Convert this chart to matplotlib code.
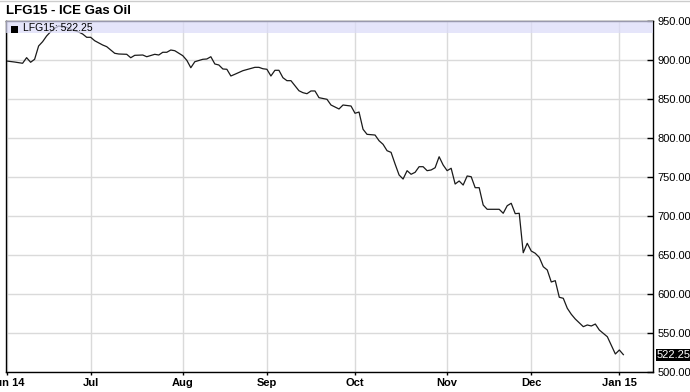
import matplotlib
matplotlib.use("Agg")
import matplotlib.pyplot as plt
from matplotlib.patches import Rectangle
from matplotlib.lines import Line2D
import matplotlib.transforms as mtransforms

plt.rcParams["font.family"] = ["Liberation Sans", "DejaVu Sans"]

# trading-day index (0 = first session of Jun 2014) and settlement price
day_idx = [0, 2, 4, 5, 6, 7, 8, 9, 10, 11, 12, 13, 15, 16, 18, 19, 20, 21, 22, 24,
           25, 27, 28, 30, 31, 32, 34, 35, 37, 38, 39, 40, 41, 42, 44, 45, 46, 47, 49, 50,
           51, 52, 53, 54, 55, 56, 57, 59, 62, 63, 64, 65, 66, 67, 68, 69, 70, 71, 73, 74,
           75, 76, 77, 78, 80, 81, 83, 84, 86, 87, 88, 89, 90, 92, 93, 94, 95, 96, 97, 98,
           99, 100, 101, 102, 103, 104, 105, 106, 107, 108, 109, 110, 111, 112, 113, 114, 115, 116, 117, 118,
           119, 120, 123, 124, 125, 126, 127, 128, 129, 130, 131, 132, 133, 134, 135, 136, 137, 138, 139, 140,
           141, 142, 143, 144, 145, 146, 147, 148, 150, 152, 153, 154]
price = [898.7, 897.4, 895.8, 903.0, 897.1, 900.9, 918.0, 923.5, 930.8, 936.3, 940.6, 943.6, 941.9, 939.4, 935.9, 933.3, 929.1, 929.1, 924.7, 919.2,
         917.1, 908.6, 907.7, 907.3, 902.9, 906.0, 906.4, 904.2, 907.3, 906.4, 909.9, 909.9, 912.8, 911.9, 905.5, 899.6, 890.1, 897.8, 900.9, 901.3,
         904.2, 894.9, 893.6, 888.5, 888.1, 879.5, 881.7, 886.3, 890.6, 890.6, 888.8, 888.1, 879.5, 886.8, 886.8, 877.3, 873.5, 873.5, 860.6, 858.1,
         856.8, 860.3, 860.3, 851.7, 849.6, 842.3, 837.2, 842.3, 841.0, 831.7, 833.3, 811.2, 804.7, 803.8, 796.5, 791.9, 783.7, 781.6, 766.7, 752.6,
         747.4, 758.1, 753.5, 756.0, 763.2, 763.2, 758.1, 759.0, 761.9, 776.0, 765.4, 758.1, 761.2, 741.0, 744.9, 739.7, 751.3, 750.4, 736.3, 736.3,
         714.1, 708.6, 708.6, 703.5, 713.2, 716.3, 703.0, 703.5, 652.9, 665.0, 655.1, 652.2, 647.0, 635.0, 630.8, 615.4, 617.1, 595.8, 594.5, 581.7,
         574.0, 567.9, 563.0, 558.1, 560.3, 559.0, 561.5, 553.8, 545.2, 523.1, 528.2, 522.25]

month_idx = [0, 21, 44, 65, 87, 110, 131, 153]
month_labels = ["Jun 14", "Jul", "Aug", "Sep", "Oct", "Nov", "Dec", "Jan 15"]
y_ticks = [500, 550, 600, 650, 700, 750, 800, 850, 900, 950]
last_price = 522.25

W, H = 690, 392
fig = plt.figure(figsize=(W / 100, H / 100), dpi=100)
ax = fig.add_axes([5.7 / W, 1 - 372 / H, (653 - 5.7) / W, 351 / H])

ax.plot(day_idx, price, color="#1a1a1a", lw=0.9, zorder=2)

ax.set_xlim(-0.22, 161.4)
ax.set_ylim(500, 950)
ax.set_xticks(month_idx)
ax.set_xticklabels(month_labels, fontweight="bold", fontsize=8)
ax.set_yticks(y_ticks)
ax.set_yticklabels([f"{v:.2f}" for v in y_ticks], fontsize=8)
ax.yaxis.tick_right()
ax.tick_params(axis="y", direction="in", length=4, width=1, pad=3)
ax.tick_params(axis="x", direction="out", length=2.5, width=1, pad=2)
ax.grid(True, color="#dadada", lw=1)
ax.set_axisbelow(True)
for s in ax.spines.values():
    s.set_color("black")
    s.set_linewidth(1)

# legend band
band_h = 12 / 351
ax.add_patch(Rectangle((0, 1 - band_h), 1, band_h, transform=ax.transAxes,
                       facecolor="#dbdbf8", edgecolor="none", alpha=0.7, zorder=3))
ax.add_patch(Rectangle((5 / 647, 1 - 11.5 / 351), 7 / 647, 7 / 351, transform=ax.transAxes,
                       facecolor="black", edgecolor="none", zorder=4))
ax.text(17 / 647, 1 - 7 / 351, f"LFG15: {last_price:.2f}", transform=ax.transAxes,
        fontsize=7.5, va="center", ha="left", zorder=5)

# last price marker on the right axis
trans = mtransforms.blended_transform_factory(fig.transFigure, ax.transData)
ax.text(657 / W, last_price, f"{last_price:.2f}", transform=trans, fontsize=8, color="white",
        va="center", ha="left", clip_on=False,
        bbox=dict(boxstyle="square,pad=0.1", facecolor="black", edgecolor="none"))

fig.text(6 / W, 1 - 11 / H, "LFG15 - ICE Gas Oil", fontsize=9.5, fontweight="bold",
         va="center", ha="left")
fig.add_artist(Line2D([0, 1], [1 - 0.5 / H, 1 - 0.5 / H], color="#cccccc", lw=1))

fig.savefig("out.png", dpi=100)
